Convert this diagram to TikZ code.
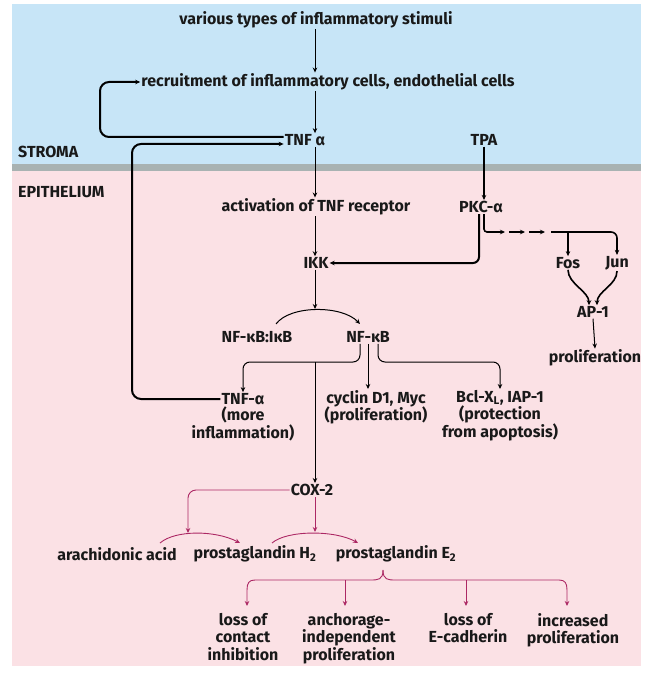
\documentclass[tikz,border=0pt]{standalone}
\usepackage{fontspec}
\setmainfont{Fira Sans}
\usetikzlibrary{arrows.meta,calc}
\definecolor{skyb}{RGB}{199,229,247}
\definecolor{pinkb}{RGB}{251,225,229}
\definecolor{bandg}{RGB}{168,178,178}
\definecolor{magl}{RGB}{172,40,100}
\tikzset{
  txt/.style={font=\bfseries\fontsize{16}{17}\selectfont, inner sep=1pt, text=black!90},
  mtxt/.style={txt, align=center, font=\bfseries\fontsize{16}{17.5}\selectfont},
  tip/.style={-{Stealth[length=5pt,width=4.5pt]}},
  conn/.style={tip, line width=1pt},
  boldconn/.style={tip, line width=2pt},
  plainbold/.style={line width=1.6pt},
  magconn/.style={tip, line width=0.9pt, draw=magl},
}
\begin{document}
\begin{tikzpicture}[x=1pt,y=-1pt]
\useasboundingbox (0,0) rectangle (654,679);
\fill[white] (0,0) rectangle (654,679);
\fill[skyb] (12,4) rectangle (641,164);
\fill[bandg] (12,164) rectangle (641,171);
\fill[pinkb] (12,171) rectangle (641,666);

% nodes
\node[txt] (stim) at (316,20) {various types of inflammatory stimuli};
\node[txt] (recr) at (328,82) {recruitment of inflammatory cells, endothelial cells};
\node[txt] (tnf) at (305,140) {TNF α};
\node[txt] (tpa) at (484,140) {TPA};
\node[txt, anchor=west] (stroma) at (17,152) {STROMA};
\node[txt, anchor=west] (epi) at (17,192) {EPITHELIUM};
\node[txt] (act) at (316,207) {activation of TNF receptor};
\node[txt] (pkc) at (481,207) {PKC-α};
\node[txt] (ikk) at (316,263) {IKK};
\node[txt] (fos) at (568,263) {Fos};
\node[txt] (jun) at (617,263) {Jun};
\node[txt] (ap1) at (593,312) {AP-1};
\node[txt] (pro1) at (595,358) {proliferation};
\node[txt] (nfi) at (257,337) {NF-κB:IκB};
\node[txt] (nf) at (368,337) {NF-κB};
\node[txt] (tnf2) at (243,399) {TNF-α};
\node[mtxt, anchor=north] (tnf2n) at (243,406) {(more\\inflammation)};
\node[mtxt, anchor=north] (cyc) at (376,389) {cyclin D1, Myc\\(proliferation)};
\node[mtxt, anchor=north] (bcl) at (500,389) {Bcl-X\textsubscript{L}, IAP-1\\(protection\\from apoptosis)};
\node[txt] (cox) at (312,490) {COX-2};
\node[txt] (ara) at (117,554) {arachidonic acid};
\node[txt] (pgh) at (255,554) {prostaglandin H\textsubscript{2}};
\node[txt] (pge) at (396,554) {prostaglandin E\textsubscript{2}};
\node[mtxt, anchor=north] (o1) at (243,612) {loss of\\contact\\inhibition};
\node[mtxt, anchor=north] (o2) at (349,612) {anchorage-\\independent\\proliferation};
\node[mtxt, anchor=north] (o3) at (468,612) {loss of\\E-cadherin};
\node[mtxt, anchor=north] (o4) at (573,612) {increased\\proliferation};

% helper coordinates
\coordinate (cx) at (315,0);
\coordinate (l1) at (100,0);
\coordinate (l2) at (132,0);
\coordinate (t1) at ($(tnf.west)+(0,-3)$);
\coordinate (t2) at ($(tnf.west)+(0,4)$);
\coordinate (arctop) at (315,309);
\coordinate (ar1) at (276,324);
\coordinate (ar2) at (360,324);
\coordinate (brY) at (0,362);
\coordinate (m1) at (188,0);
\coordinate (a1top) at (188,533);
\coordinate (a2top) at (315,532);
\coordinate (pk1) at ($(pkc.south)+(-2,0)$);
\coordinate (pk2) at ($(pkc.south)+(3,0)$);
\coordinate (dA) at (489,232);
\coordinate (dB) at (505,232);
\coordinate (dC) at (509,232);
\coordinate (dD) at (525,232);
\coordinate (dE) at (529,232);
\coordinate (dF) at (545,232);
\coordinate (sG) at (551,232);
\coordinate (bc) at (383,570);
\coordinate (bL) at (247,590);
\coordinate (bR) at (567,590);
\coordinate (b2) at (345,580);
\coordinate (b3) at (466,580);

% main column
\draw[conn] (stim.south -| cx) -- (recr.north -| cx);
\draw[conn] (recr.south -| cx) -- (tnf.north -| cx);
\draw[conn] (tnf.south -| cx) -- (act.north -| cx);
\draw[conn] (act.south -| cx) -- (ikk.north -| cx);
\draw[conn] (ikk.south -| cx) -- (arctop);

% loops
\draw[boldconn, rounded corners=9pt] (t1) -- (t1 -| l1) -- (l1 |- recr.west) -- (recr.west);
\draw[boldconn, rounded corners=9pt] (tnf2.west) -- (tnf2.west -| l2) -- (l2 |- t2) -- (t2);

% TPA / PKC
\draw[tip, line width=2.2pt] (tpa.south) -- (tpa.south |- pkc.north);
\draw[boldconn, rounded corners=6pt] (pk1) -- (pk1 |- ikk.east) -- (ikk.east);
\draw[plainbold, rounded corners=3pt] (pk2) |- (dA);
\draw[tip, line width=1.4pt] (dA) -- (dB);
\draw[tip, line width=1.4pt] (dC) -- (dD);
\draw[tip, line width=1.4pt] (dE) -- (dF);
\draw[boldconn, line width=1.6pt, rounded corners=6pt] (sG) -- (sG -| jun.north) -- (jun.north);
\draw[boldconn, line width=1.6pt] (sG -| fos.north) -- (fos.north);
\draw[boldconn, line width=1.6pt] (fos.south) .. controls +(0,14) and +(0,-14) .. ($(ap1.north)+(-4,0)$);
\draw[boldconn, line width=1.6pt] (jun.south) .. controls +(0,14) and +(0,-14) .. ($(ap1.north)+(4,0)$);
\draw[conn] (ap1.south) -- (pro1.north);

% NF-kB
\draw[conn] (ar1) .. controls (290,305) and (342,305) .. (ar2);
\draw[conn, rounded corners=7pt] ($(nf.south)+(-8,0)$) |- (brY -| tnf2.north) -- (tnf2.north);
\draw[conn] (nf.south) -- (nf.south |- cyc.north);
\draw[conn, rounded corners=7pt] ($(nf.south)+(10,0)$) |- (brY -| bcl.north) -- (bcl.north);
\draw[conn] (brY -| cx) -- (cox.north -| cx);

% COX-2 (magenta)
\draw[magconn, rounded corners=8pt] (cox.west) -- (cox.west -| m1) -- (a1top);
\draw[magconn] (cox.south -| cx) -- (a2top);
\draw[magconn] (160,543) .. controls (175,530) and (215,530) .. (240,543);
\draw[magconn] (272,543) .. controls (287,530) and (335,530) .. (358,543);

% brace
\draw[magconn, shorten >=6pt] (bc) .. controls +(0,10) and +(8,0) .. ($(bc)+(-13,10)$) -- ($(bL)+(8,-10)$) .. controls +(-6,0) and +(0,-7) .. (bL) -- (bL |- o1.north);
\draw[magconn, shorten >=6pt] (bc) .. controls +(0,10) and +(-8,0) .. ($(bc)+(13,10)$) -- ($(bR)+(-8,-10)$) .. controls +(6,0) and +(0,-7) .. (bR) -- (bR |- o4.north);
\draw[magconn, shorten >=6pt] (b2) -- (b2 |- o2.north);
\draw[magconn, shorten >=6pt] (b3) -- (b3 |- o3.north);
\end{tikzpicture}
\end{document}
